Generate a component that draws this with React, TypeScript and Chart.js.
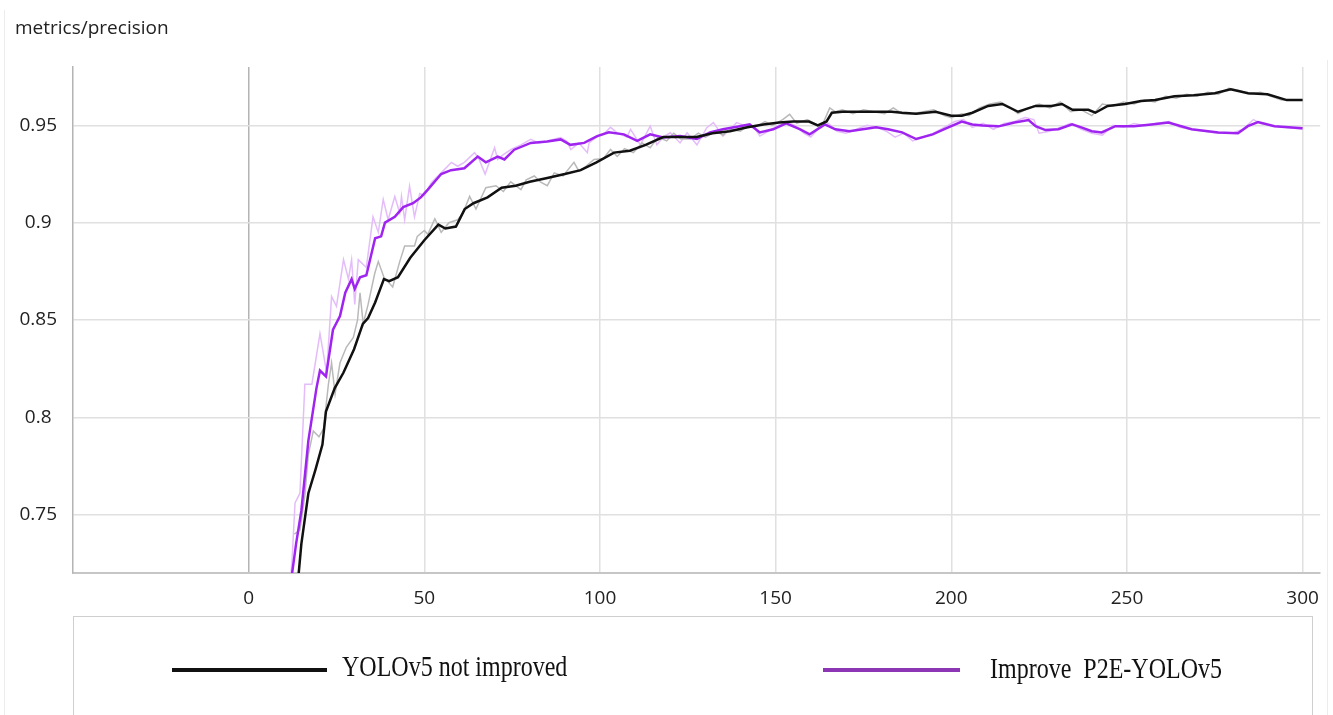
import React, { useEffect, useRef } from "react";
import { Chart, registerables } from "chart.js";

Chart.register(...registerables);

// ---- data ----
const xTicks = [0, 50, 100, 150, 200, 250, 300];
const yTicks = [0.75, 0.8, 0.85, 0.9, 0.95];

const blackEpochs = [14, 15, 17, 19, 21, 22, 24.5, 27, 30, 32.5, 34, 36, 38.5, 40, 42.5, 46, 50, 54, 56, 59, 61.5, 64, 68, 72, 76, 80, 85, 90, 94.5, 99, 104, 108.5, 113, 118, 123, 127.5, 132, 137, 142, 146.5, 151, 155, 159.5, 162, 164.5, 166, 169, 174, 178.5, 183, 186, 190, 195.5, 200, 203, 206, 210.5, 214.5, 219, 224, 228.5, 231.5, 234.5, 239, 241, 244.5, 249.5, 254, 258, 263.5, 269, 275, 279.5, 284.5, 290, 295.5, 300];
const blackSmooth = [0.715, 0.735, 0.761, 0.773, 0.786, 0.803, 0.815, 0.823, 0.835, 0.848, 0.851, 0.859, 0.871, 0.870, 0.872, 0.882, 0.891, 0.899, 0.897, 0.898, 0.907, 0.910, 0.913, 0.918, 0.919, 0.921, 0.923, 0.925, 0.927, 0.931, 0.936, 0.937, 0.940, 0.944, 0.944, 0.944, 0.946, 0.947, 0.949, 0.9505, 0.9515, 0.952, 0.952, 0.950, 0.952, 0.9565, 0.957, 0.957, 0.957, 0.957, 0.9565, 0.956, 0.957, 0.955, 0.955, 0.9565, 0.960, 0.961, 0.957, 0.960, 0.960, 0.961, 0.958, 0.958, 0.9565, 0.960, 0.961, 0.9625, 0.963, 0.965, 0.9655, 0.9665, 0.9685, 0.9665, 0.966, 0.963, 0.963];

const purpleEpochs = [12, 13.5, 15, 17, 19.3, 20.3, 22, 24, 26, 27.5, 29.3, 30.2, 31.7, 33.5, 36, 37.7, 38.8, 41.6, 44, 46.8, 49, 51, 54.8, 57.6, 61.4, 65.2, 67.5, 70.9, 72.8, 75.6, 80.3, 85, 88.8, 91.6, 95.5, 99.2, 102.5, 106.8, 110.6, 114.3, 118, 122.8, 127.6, 131.3, 135, 139.8, 142.6, 145.5, 149.3, 153, 157, 159.7, 164, 167, 171, 174.8, 178.6, 182, 186, 190, 194.7, 198.5, 203, 206, 208.9, 213.5, 218, 222, 224, 226.8, 230.5, 234.4, 237, 240, 242.8, 246.7, 252, 257, 261.8, 268.4, 276, 281.6, 284.4, 287.3, 292, 300];
const purpleSmooth = [0.715, 0.735, 0.752, 0.788, 0.815, 0.824, 0.821, 0.845, 0.852, 0.864, 0.871, 0.866, 0.872, 0.873, 0.892, 0.893, 0.900, 0.903, 0.908, 0.910, 0.913, 0.917, 0.925, 0.927, 0.928, 0.934, 0.931, 0.934, 0.9325, 0.9375, 0.941, 0.9417, 0.9428, 0.940, 0.941, 0.9445, 0.9465, 0.9454, 0.942, 0.9454, 0.9438, 0.9445, 0.943, 0.9464, 0.948, 0.9496, 0.9505, 0.9464, 0.948, 0.951, 0.948, 0.9454, 0.9505, 0.948, 0.947, 0.948, 0.949, 0.948, 0.9464, 0.943, 0.9454, 0.9485, 0.952, 0.9505, 0.950, 0.9495, 0.9515, 0.9527, 0.9496, 0.9476, 0.948, 0.9505, 0.949, 0.947, 0.9464, 0.9496, 0.9496, 0.9505, 0.9515, 0.948, 0.9464, 0.946, 0.9496, 0.9517, 0.9496, 0.9485];

const grayEpochs = [13, 14.6, 16, 17, 18.4, 20, 21.3, 22.7, 23.6, 24.6, 26, 27.8, 29.8, 31, 31.7, 32.6, 34, 35.9, 36.9, 38.5, 41, 43, 44.4, 47.2, 48, 50, 51, 53, 54.8, 57, 59.5, 61, 62.9, 64.7, 67.5, 70.4, 72.5, 74.6, 77.5, 79, 81.3, 83, 85, 87, 89.5, 92.6, 94, 96, 98.3, 101, 103, 104.9, 107, 109.5, 112, 114.3, 116.5, 119, 121, 123, 125.7, 128, 130, 133, 135, 137, 140, 142, 144, 147, 149, 152, 154, 156, 159, 161, 163, 165.4, 167, 169, 172, 175, 178, 181, 183.5, 186, 189, 192, 195, 198, 200, 203, 205, 208, 211, 214, 217, 219, 222, 225, 228, 231, 234, 237, 240, 243, 246, 249, 252, 255, 258, 261, 264, 267, 270, 273, 276, 279, 282, 285, 288, 291, 294, 297, 300];
const grayRaw = [0.740, 0.742, 0.760, 0.781, 0.793, 0.790, 0.794, 0.817, 0.828, 0.812, 0.828, 0.836, 0.841, 0.850, 0.864, 0.848, 0.858, 0.874, 0.880, 0.872, 0.867, 0.880, 0.888, 0.888, 0.893, 0.896, 0.894, 0.902, 0.895, 0.900, 0.9015, 0.905, 0.9135, 0.907, 0.918, 0.919, 0.916, 0.921, 0.917, 0.922, 0.924, 0.921, 0.919, 0.9256, 0.924, 0.931, 0.9265, 0.929, 0.9325, 0.933, 0.9376, 0.934, 0.938, 0.936, 0.941, 0.9385, 0.944, 0.942, 0.946, 0.943, 0.943, 0.946, 0.944, 0.947, 0.945, 0.948, 0.947, 0.950, 0.949, 0.952, 0.950, 0.953, 0.9557, 0.951, 0.953, 0.951, 0.949, 0.959, 0.957, 0.958, 0.956, 0.958, 0.957, 0.956, 0.959, 0.956, 0.956, 0.957, 0.958, 0.955, 0.954, 0.956, 0.955, 0.959, 0.961, 0.962, 0.959, 0.956, 0.959, 0.961, 0.959, 0.962, 0.957, 0.958, 0.955, 0.961, 0.960, 0.962, 0.961, 0.963, 0.962, 0.965, 0.964, 0.966, 0.965, 0.967, 0.966, 0.969, 0.968, 0.966, 0.967, 0.965, 0.963, 0.963, 0.963];

const violetEpochs = [11.8, 12.3, 13.2, 14.6, 16, 18, 20.3, 22.2, 23.6, 25, 27, 28.4, 29.3, 30.2, 31.2, 33.5, 35.4, 36.9, 38.3, 39.7, 41.6, 43, 43.5, 44.4, 45.8, 47.2, 48.7, 50, 52, 54.8, 57.7, 59.5, 61.4, 64.3, 65.5, 67.3, 70, 70.9, 72.5, 74.7, 77.5, 80.3, 82.5, 85, 88.8, 90.5, 91.7, 94, 96.4, 96.9, 99, 101, 103, 105, 107.7, 108.7, 111.5, 114.3, 116.2, 118, 120, 122.8, 124.8, 127.6, 130.4, 132.3, 135, 138.9, 141, 143.7, 145.5, 148, 150.3, 153, 155.5, 158, 160, 162.5, 165, 167.5, 170, 173, 176, 179, 181.5, 184, 186.5, 189, 192, 195, 198, 201, 203.5, 206, 209, 212, 215, 218, 221, 223.5, 225, 228, 231, 234, 237, 240, 243, 246, 249, 252, 255, 258, 262, 265, 268, 272, 276, 280, 283, 286, 288, 291, 295, 300];
const violetRaw = [0.715, 0.725, 0.756, 0.761, 0.817, 0.817, 0.843, 0.823, 0.862, 0.857, 0.881, 0.871, 0.881, 0.858, 0.881, 0.877, 0.903, 0.895, 0.912, 0.9015, 0.9135, 0.905, 0.9135, 0.9015, 0.9187, 0.903, 0.915, 0.914, 0.9205, 0.9256, 0.931, 0.929, 0.931, 0.936, 0.933, 0.925, 0.9385, 0.9325, 0.935, 0.9376, 0.940, 0.9428, 0.941, 0.942, 0.9437, 0.942, 0.9376, 0.941, 0.936, 0.941, 0.944, 0.9454, 0.949, 0.946, 0.944, 0.948, 0.940, 0.9496, 0.940, 0.944, 0.9462, 0.941, 0.9462, 0.940, 0.9488, 0.9514, 0.9445, 0.9514, 0.950, 0.9496, 0.9445, 0.947, 0.9496, 0.952, 0.950, 0.946, 0.944, 0.949, 0.951, 0.947, 0.946, 0.948, 0.950, 0.949, 0.947, 0.944, 0.946, 0.942, 0.944, 0.946, 0.949, 0.952, 0.953, 0.949, 0.951, 0.948, 0.951, 0.952, 0.954, 0.953, 0.946, 0.947, 0.949, 0.951, 0.948, 0.946, 0.945, 0.950, 0.949, 0.951, 0.950, 0.951, 0.952, 0.949, 0.948, 0.947, 0.946, 0.946, 0.948, 0.953, 0.951, 0.950, 0.949, 0.948];

const seriesNames = ["YOLOv5 not improved", "Improve  P2E-YOLOv5"];

const pts = (xs: number[], ys: number[]) => xs.map((x, i) => ({ x, y: ys[i] }));

const FONT = "'Open Sans', 'Noto Sans', sans-serif";
const SERIF = "'Liberation Serif', 'Times New Roman', serif";

export default function App() {
  const ref = useRef<HTMLCanvasElement | null>(null);

  useEffect(() => {
    if (!ref.current) return;
    const chart = new Chart(ref.current, {
      type: "line",
      data: {
        datasets: [
          { label: seriesNames[0], data: pts(blackEpochs, blackSmooth), borderColor: "#111111", borderWidth: 2.5, pointRadius: 0, tension: 0 },
          { label: seriesNames[1], data: pts(purpleEpochs, purpleSmooth), borderColor: "#a024f0", borderWidth: 2.5, pointRadius: 0, tension: 0 },
          { label: "raw1", data: pts(grayEpochs, grayRaw), borderColor: "#b9b9b9", borderWidth: 1.5, pointRadius: 0, tension: 0 },
          { label: "raw2", data: pts(violetEpochs, violetRaw), borderColor: "#e4bcfa", borderWidth: 1.5, pointRadius: 0, tension: 0 },
        ],
      },
      options: {
        animation: false,
        responsive: true,
        maintainAspectRatio: false,
        layout: { padding: { top: 67, right: 7, left: 0, bottom: 0 } },
        plugins: { legend: { display: false }, tooltip: { enabled: false }, title: { display: false } },
        scales: {
          x: {
            type: "linear",
            min: -50,
            max: 305,
            afterBuildTicks: (s: any) => { s.ticks = xTicks.map((v) => ({ value: v })); },
            afterFit: (s: any) => { s.height = 44; },
            grid: {
              color: (c: any) => (c.tick && c.tick.value === 0 ? "#b4b4b4" : "#e0e0e0"),
              lineWidth: 1.5,
              drawTicks: false,
            },
            border: { display: true, color: "#c6c6c6", width: 2 },
            ticks: { padding: 14, color: "#222", font: { family: FONT, size: 19 }, maxRotation: 0, autoSkip: false },
          },
          y: {
            type: "linear",
            min: 0.72,
            max: 0.98,
            afterBuildTicks: (s: any) => { s.ticks = yTicks.map((v) => ({ value: v })); },
            afterFit: (s: any) => { s.width = 73; },
            grid: { color: "#e0e0e0", lineWidth: 1.5, drawTicks: false },
            border: { display: true, color: "#b4b4b4", width: 1.5 },
            ticks: {
              padding: 16,
              crossAlign: "center",
              color: "#222",
              font: { family: FONT, size: 19 },
              callback: (v: any) => String(Number(v)),
            },
          },
        },
      },
    });
    return () => chart.destroy();
  }, []);

  const legendText: React.CSSProperties = {
    position: "absolute",
    fontFamily: SERIF,
    fontSize: 30,
    lineHeight: "36px",
    color: "#111",
    whiteSpace: "pre",
    transform: "scaleX(0.8)",
    transformOrigin: "left center",
  };

  return (
    <div style={{ position: "absolute", left: 0, top: 0, width: 1333, height: 715, background: "#fff", overflow: "hidden" }}>
      <div style={{ position: "absolute", left: 4, top: 10, width: 1, height: 705, background: "#ececec" }} />
      <div style={{ position: "absolute", left: 1327, top: 60, width: 1, height: 655, background: "#ececec" }} />
      <div style={{ position: "absolute", left: 0, top: 0, width: 1333, height: 617 }}>
        <canvas ref={ref} />
      </div>
      <div style={{ position: "absolute", left: 15, top: 14, fontFamily: FONT, fontSize: 19, color: "#222", lineHeight: "26px" }}>
        metrics/precision
      </div>
      <div style={{ position: "absolute", left: 73, top: 616, width: 1240, height: 120, border: "1.5px solid #cfcfcf", boxSizing: "border-box" }} />
      <div style={{ position: "absolute", left: 172, top: 668, width: 155, height: 4, background: "#111" }} />
      <div style={{ ...legendText, left: 342, top: 648 }}>{seriesNames[0]}</div>
      <div style={{ position: "absolute", left: 823, top: 668, width: 137, height: 4, background: "#8c35b5" }} />
      <div style={{ ...legendText, left: 990, top: 650 }}>{seriesNames[1]}</div>
    </div>
  );
}
